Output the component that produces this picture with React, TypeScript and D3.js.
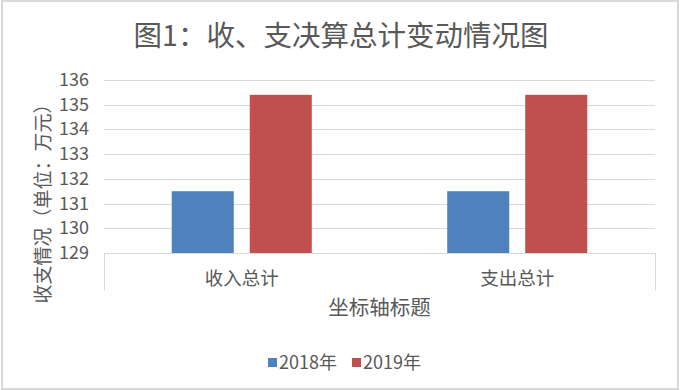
import { scaleBand, scaleLinear, range } from 'd3';

const categories = ['收入总计', '支出总计'];
const seriesNames = ['2018年', '2019年'];
const values2018 = [131.5, 131.5];
const values2019 = [135.4, 135.4];
const yTicks = [129, 130, 131, 132, 133, 134, 135, 136];

const colors = ['#4F81BD', '#C0504D'];
const W = 680;
const H = 390;
const plot = { left: 104, right: 655, top: 80, bottom: 253 };
const font = '"Noto Sans CJK SC", "Noto Sans", sans-serif';
const textColor = '#595959';
const gridColor = '#D9D9D9';

const App = () => {
  const seriesValues = [values2018, values2019];

  const x0 = scaleBand<string>()
    .domain(categories)
    .range([plot.left, plot.right]);

  const x1 = scaleBand<string>()
    .domain(seriesNames)
    .range([0, x0.bandwidth()])
    .paddingInner(0.205)
    .paddingOuter(0.868);

  const y = scaleLinear().domain([129, 136]).range([plot.bottom, plot.top]);

  const legendItems = range(seriesNames.length);
  const legendX = [268, 352];

  return (
    <>
      <style>{`body{margin:0}`}</style>
      <svg width={W} height={H} style={{ display: 'block' }}>
        <rect x={0} y={0} width={W} height={H} fill="#fff" />
        <rect
          x={2}
          y={1}
          width={676}
          height={388}
          fill="none"
          stroke={gridColor}
          strokeWidth={2}
        />

        {/* title */}
        <text
          x={341}
          y={46}
          textAnchor="middle"
          fontFamily={font}
          fontSize={28.5}
          fill={textColor}
        >
          图1：收、支决算总计变动情况图
        </text>

        {/* gridlines */}
        {yTicks.map((t) => (
          <line
            key={t}
            x1={plot.left}
            x2={plot.right}
            y1={Math.round(y(t)) + 0.5}
            y2={Math.round(y(t)) + 0.5}
            stroke={gridColor}
            strokeWidth={1}
          />
        ))}

        {/* category tick marks */}
        {[plot.left, plot.right].map((xx) => (
          <line
            key={xx}
            x1={xx + 0.5}
            x2={xx + 0.5}
            y1={plot.bottom}
            y2={290}
            stroke={gridColor}
            strokeWidth={1}
          />
        ))}

        {/* bars */}
        {categories.map((c, i) =>
          seriesNames.map((s, j) => (
            <rect
              key={c + s}
              x={(x0(c) ?? 0) + (x1(s) ?? 0)}
              y={y(seriesValues[j][i])}
              width={x1.bandwidth()}
              height={y(129) - y(seriesValues[j][i])}
              fill={colors[j]}
            />
          )),
        )}

        {/* y tick labels */}
        {yTicks.map((t) => (
          <text
            key={t}
            x={89}
            y={y(t) + 6}
            textAnchor="end"
            fontFamily={font}
            fontSize={18}
            fill={textColor}
          >
            {t}
          </text>
        ))}

        {/* x labels */}
        {categories.map((c) => (
          <text
            key={c}
            x={(x0(c) ?? 0) + x0.bandwidth() / 2}
            y={285}
            textAnchor="middle"
            fontFamily={font}
            fontSize={18.5}
            fill={textColor}
          >
            {c}
          </text>
        ))}

        {/* axis titles */}
        <text
          x={(plot.left + plot.right) / 2}
          y={315}
          textAnchor="middle"
          fontFamily={font}
          fontSize={20.5}
          fill={textColor}
        >
          坐标轴标题
        </text>
        <text
          transform="translate(50, 199) rotate(-90)"
          textAnchor="middle"
          fontFamily={font}
          fontSize={19}
          fill={textColor}
        >
          收支情况（单位：万元）
        </text>

        {/* legend */}
        {legendItems.map((k) => (
          <g key={k} transform={`translate(${legendX[k]}, 0)`}>
            <rect x={0} y={358} width={9} height={9} fill={colors[k]} />
            <text
              x={11}
              y={369}
              fontFamily={font}
              fontSize={18}
              fill={textColor}
            >
              {seriesNames[k]}
            </text>
          </g>
        ))}
      </svg>
    </>
  );
};

export default App;
